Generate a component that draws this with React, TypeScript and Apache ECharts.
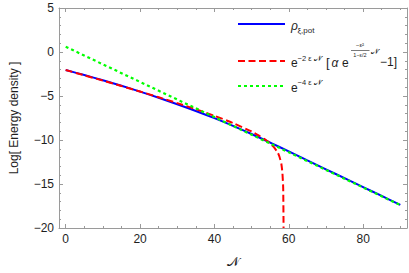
import React, { useEffect, useRef } from "react";
import * as echarts from "echarts";

// ---- data ----
const blueN = [0, 5, 10, 15, 20, 25, 30, 35, 40, 45, 50, 55, 60, 65, 70, 75, 80, 85, 90];
const blueV = [-2.05, -2.62, -3.21, -3.84, -4.5, -5.2, -5.93, -6.7, -7.52, -8.39, -9.32, -10.3, -11.3, -12.32, -13.33, -14.34, -15.35, -16.36, -17.37];

const redN = [0, 5, 10, 15, 20, 25, 30, 35, 40, 45, 50, 52, 54, 55, 56, 57, 57.5, 58, 58.3, 58.5, 58.6];
const redV = [-2.05, -2.65, -3.25, -3.87, -4.49, -5.14, -5.81, -6.5, -7.25, -8.07, -9.03, -9.5, -10.06, -10.39, -10.82, -11.4, -11.9, -12.7, -13.8, -15.5, -20];

const greenN = [0, 30, 60, 90];
const greenV = [0.6, -5.4, -11.4, -17.4];

const xMajor = [0, 20, 40, 60, 80];
const xMinor = [5, 10, 15, 25, 30, 35, 45, 50, 55, 65, 70, 75, 85, 90];
const X_MIN = -1.8;
const X_MAX = 91.8;
const Y_MIN = -20;
const Y_MAX = 5;

const FRAME = "#9a9a9a";
const TXT = "#1e1e1e";
const FONT = "'Liberation Sans', Arial, 'DejaVu Sans', sans-serif";
const CAL = "𝒩";

function pairs(xs: number[], ys: number[]) {
  return xs.map((x, i) => [x, ys[i]]);
}

export default function App() {
  const ref = useRef<HTMLDivElement>(null);
  useEffect(() => {
    if (!ref.current) return;
    const chart = echarts.init(ref.current, undefined, { renderer: "svg" });

    const xBase = (pos: "top" | "bottom", vals: number[], len: number, line: boolean, labels: boolean, name?: string) => ({
      type: "value",
      position: pos,
      min: X_MIN,
      max: X_MAX,
      axisLine: { show: line, onZero: false, lineStyle: { color: FRAME, width: 1 } },
      axisTick: { show: true, inside: true, length: len, customValues: vals, lineStyle: { color: FRAME, width: 1 } },
      axisLabel: labels
        ? { show: true, customValues: vals, color: TXT, fontSize: 12, fontFamily: FONT, margin: 5 }
        : { show: false },
      splitLine: { show: false },
      name: name,
      nameLocation: "middle",
      nameGap: 27,
      nameTextStyle: { color: TXT, fontSize: 13, fontFamily: FONT },
    });

    const yBase = (pos: "left" | "right", labels: boolean, name?: string) => ({
      type: "value",
      position: pos,
      min: Y_MIN,
      max: Y_MAX,
      interval: 5,
      axisLine: { show: true, onZero: false, lineStyle: { color: FRAME, width: 1 } },
      axisTick: { show: true, inside: true, length: 4, lineStyle: { color: FRAME, width: 1 } },
      minorTick: { show: true, splitNumber: 5, length: 2, lineStyle: { color: FRAME, width: 1 } },
      axisLabel: labels
        ? {
            show: true,
            color: TXT,
            fontSize: 12,
            fontFamily: FONT,
            margin: 5,
            formatter: (v: number) => (v < 0 ? "\u2212" + Math.abs(v) : String(v)),
          }
        : { show: false },
      splitLine: { show: false },
      minorSplitLine: { show: false },
      name: name,
      nameLocation: "middle",
      nameGap: 39,
      nameRotate: 90,
      nameTextStyle: { color: TXT, fontSize: 12, fontFamily: FONT },
    });

    const sub = (text: string, x: number, y: number, size: number, extra: any = {}) => ({
      type: "text",
      x,
      y,
      silent: true,
      style: { text, fontSize: size, fontFamily: FONT, fill: TXT, verticalAlign: "middle", align: "left", ...extra },
    });

    const graphic: any[] = [
      { type: "line", silent: true, shape: { x1: 238, y1: 24, x2: 285, y2: 24 }, style: { stroke: "#0000ff", lineWidth: 2 } },
      { type: "line", silent: true, shape: { x1: 238, y1: 61, x2: 285, y2: 61 }, style: { stroke: "#ff0000", lineWidth: 2, lineDash: [7, 3.5] } },
      { type: "line", silent: true, shape: { x1: 238, y1: 86, x2: 285, y2: 86 }, style: { stroke: "#00ff00", lineWidth: 2.2, lineDash: [3, 3] } },
      // blue label
      sub("ρ", 291, 26, 12, { fontStyle: "italic" }),
      sub("ξ,pot", 297.5, 30, 8),
      // red label
      sub("e", 291, 62.5, 12),
      sub("−2 ε " + CAL, 297.5, 58.5, 7.5),
      sub("[", 326, 62, 13),
      sub("α", 331.5, 62.5, 12, { fontStyle: "italic" }),
      sub("e", 342, 62.5, 12),
      sub("−ε²", 360, 45, 6, { align: "center" }),
      { type: "line", silent: true, shape: { x1: 351, y1: 50.5, x2: 369.5, y2: 50.5 }, style: { stroke: TXT, lineWidth: 0.6 } },
      sub("1−ε/2", 360, 54.5, 5.5, { align: "center" }),
      sub(CAL, 371, 51.5, 7.5),
      sub("−1]", 380, 62, 12),
      // green label
      sub("e", 291, 87.5, 12),
      sub("−4 ε " + CAL, 297.5, 82, 7.5),
    ];

    chart.setOption({
      animation: false,
      backgroundColor: "#ffffff",
      grid: { left: 53, right: 2, top: 8, bottom: 45, containLabel: false },
      xAxis: [
        xBase("bottom", xMajor, 4, true, true, CAL),
        xBase("bottom", xMinor, 2, false, false),
        xBase("top", xMajor, 4, true, false),
        xBase("top", xMinor, 2, false, false),
      ],
      yAxis: [yBase("left", true, "Log[ Energy density ]"), yBase("right", false)],
      series: [
        {
          type: "line",
          xAxisIndex: 0,
          yAxisIndex: 0,
          data: pairs(blueN, blueV),
          smooth: 0.3,
          showSymbol: false,
          symbol: "none",
          lineStyle: { color: "#0000ff", width: 2 },
          z: 2,
        },
        {
          type: "line",
          xAxisIndex: 0,
          yAxisIndex: 0,
          data: pairs(redN, redV),
          smooth: 0.2,
          showSymbol: false,
          symbol: "none",
          lineStyle: { color: "#ff0000", width: 2, type: [7, 3.5] },
          z: 3,
        },
        {
          type: "line",
          xAxisIndex: 0,
          yAxisIndex: 0,
          data: pairs(greenN, greenV),
          showSymbol: false,
          symbol: "none",
          lineStyle: { color: "#00ff00", width: 2.2, type: [3, 3] },
          z: 4,
        },
      ],
      graphic,
    });
    return () => chart.dispose();
  }, []);
  return (
    <div
      ref={ref}
      style={{ position: "fixed", left: 0, top: 0, width: 409, height: 273, background: "#fff" }}
    />
  );
}
